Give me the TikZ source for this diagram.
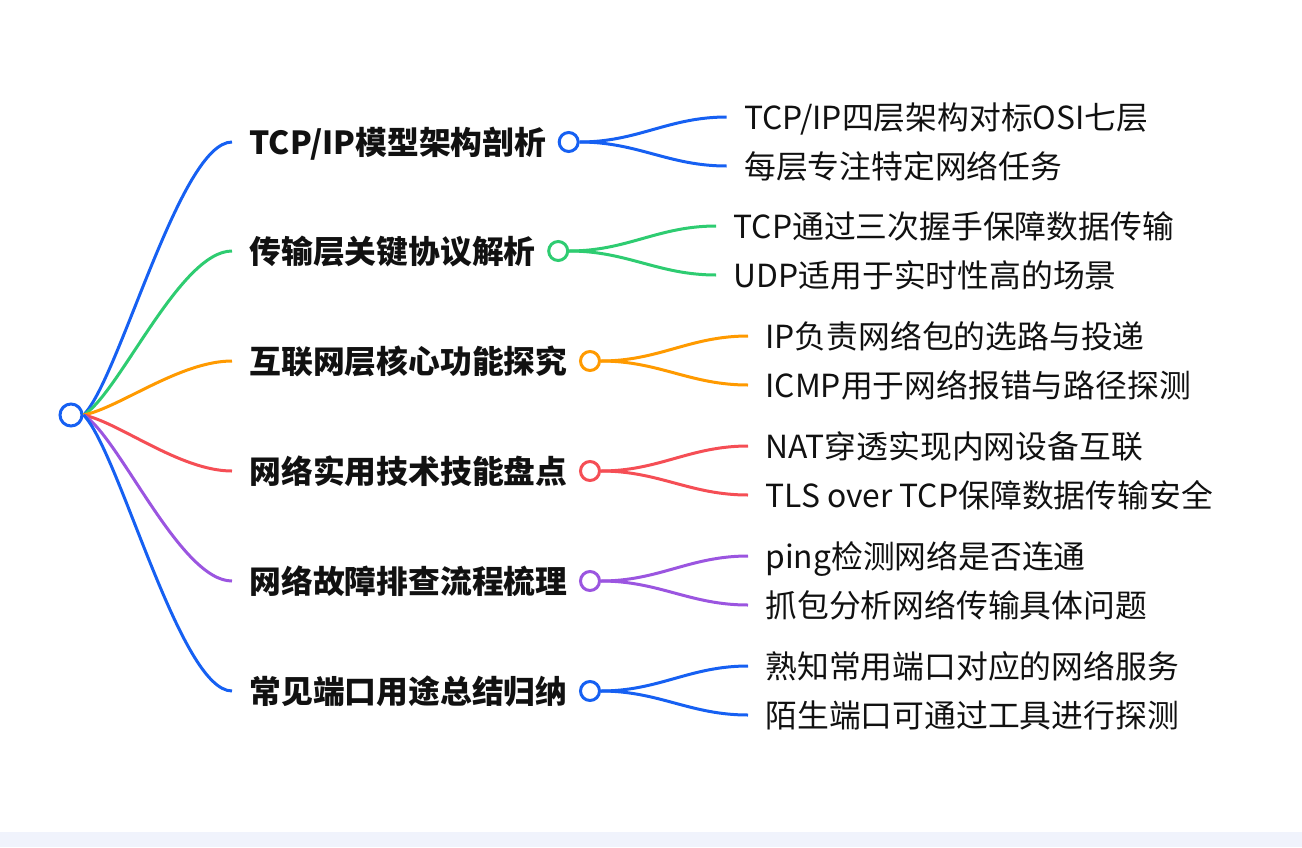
\documentclass[tikz,border=0pt]{standalone}
\usepackage{fontspec}
\setmainfont{Noto Sans CJK SC}
\usetikzlibrary{positioning,calc}
\definecolor{mblue}{HTML}{1660F2}
\definecolor{mgreen}{HTML}{2ECC71}
\definecolor{morange}{HTML}{FF9A00}
\definecolor{mred}{HTML}{F54E55}
\definecolor{mpurple}{HTML}{9B55E0}
\definecolor{inkc}{HTML}{111111}
\definecolor{stripbg}{HTML}{F0F3FC}

\newcommand\rootlink[2]{%
  \draw[#1] let \p1=(root.east), \p2=(#2.west) in
    (\p1) .. controls ({\x1+0.24*(\x2-\x1)},{\y1+0.13*(\y2-\y1)})
    and ({\x2-0.35*(\x2-\x1)},\y2) .. (\p2);}

\begin{document}
\begin{tikzpicture}[x=1pt, y=-1pt, line width=3pt,
  branch/.style={anchor=west, inner xsep=16pt, inner ysep=0pt, text=inkc,
    text height=27.9pt, text depth=3.8pt,
    font=\fontsize{31.8}{34}\selectfont\bfseries},
  leaf/.style={inner xsep=16pt, inner ysep=0pt, text=inkc,
    text height=27.9pt, text depth=3.8pt,
    font=\fontsize{31.8}{34}\selectfont},
  dot/.style={circle, draw=#1, fill=white, minimum size=19pt, inner sep=0pt}]
  \useasboundingbox (0,0) rectangle (1302,847);
  \fill[stripbg] (0,832) rectangle (1302,847);

  \node[dot=mblue, minimum size=22pt] (root) at (71,415) {};

  % branches
  \node[branch] (b1) at (232,142) {TCP/IP模型架构剖析};
  \node[branch] (b2) at (232,251) {传输层关键协议解析};
  \node[branch] (b3) at (232,361) {互联网层核心功能探究};
  \node[branch] (b4) at (232,471) {网络实用技术技能盘点};
  \node[branch] (b5) at (232,581) {网络故障排查流程梳理};
  \node[branch] (b6) at (232,691) {常见端口用途总结归纳};

  \node[dot=mblue,   right=-6pt of b1] (c1) {};
  \node[dot=mgreen,  right=-6pt of b2] (c2) {};
  \node[dot=morange, right=-6pt of b3] (c3) {};
  \node[dot=mred,    right=-6pt of b4] (c4) {};
  \node[dot=mpurple, right=-6pt of b5] (c5) {};
  \node[dot=mblue,   right=-6pt of b6] (c6) {};

  % leaves
  \node[leaf, right=147pt of c1, yshift=25pt]  (l1a) {TCP/IP四层架构对标OSI七层};
  \node[leaf, right=147pt of c1, yshift=-24pt] (l1b) {每层专注特定网络任务};
  \node[leaf, right=147pt of c2, yshift=25pt]  (l2a) {TCP通过三次握手保障数据传输};
  \node[leaf, right=147pt of c2, yshift=-24pt] (l2b) {UDP适用于实时性高的场景};
  \node[leaf, right=147pt of c3, yshift=25pt]  (l3a) {IP负责网络包的选路与投递};
  \node[leaf, right=147pt of c3, yshift=-24pt] (l3b) {ICMP用于网络报错与路径探测};
  \node[leaf, right=147pt of c4, yshift=25pt]  (l4a) {NAT穿透实现内网设备互联};
  \node[leaf, right=147pt of c4, yshift=-24pt] (l4b) {TLS over TCP保障数据传输安全};
  \node[leaf, right=147pt of c5, yshift=25pt]  (l5a) {ping检测网络是否连通};
  \node[leaf, right=147pt of c5, yshift=-24pt] (l5b) {抓包分析网络传输具体问题};
  \node[leaf, right=147pt of c6, yshift=25pt]  (l6a) {熟知常用端口对应的网络服务};
  \node[leaf, right=147pt of c6, yshift=-24pt] (l6b) {陌生端口可通过工具进行探测};

  % links
  \rootlink{mblue}{b1}
  \rootlink{mgreen}{b2}
  \rootlink{morange}{b3}
  \rootlink{mred}{b4}
  \rootlink{mpurple}{b5}
  \rootlink{mblue}{b6}
  \foreach \i/\col in {1/mblue, 2/mgreen, 3/morange, 4/mred, 5/mpurple, 6/mblue} {
    \draw[\col] (c\i.east) to[out=0, in=180] (l\i a.west);
    \draw[\col] (c\i.east) to[out=0, in=180] (l\i b.west);
  }
\end{tikzpicture}
\end{document}
